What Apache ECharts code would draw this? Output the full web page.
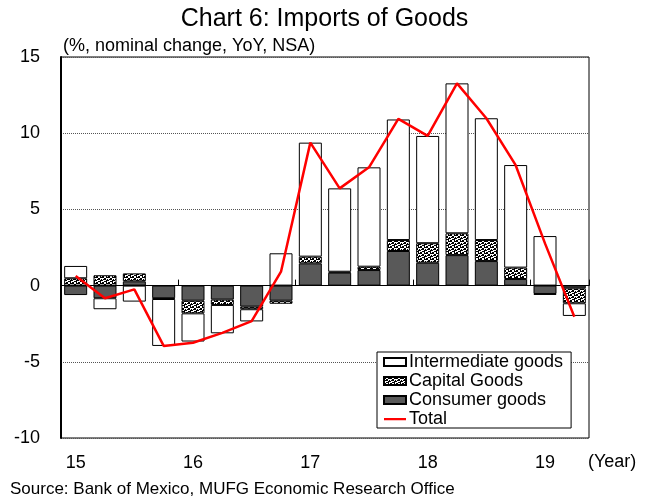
<!DOCTYPE html>
<html>
<head>
<meta charset="utf-8">
<script src="https://cdn.jsdelivr.net/npm/echarts@6/dist/echarts.min.js"></script>
<style>
html,body{margin:0;padding:0;background:#fff;}
#chart{width:649px;height:499px;}
</style>
</head>
<body>
<div id="chart"></div>
<script>
// ---- data (quarterly, 2015Q1 - 2019Q2) ----
const quarters = ['15Q1','15Q2','15Q3','15Q4','16Q1','16Q2','16Q3','16Q4','17Q1','17Q2','17Q3','17Q4','18Q1','18Q2','18Q3','18Q4','19Q1','19Q2'];
const tickLabels = ['15','','','','16','','','','17','','','','18','','','','19',''];
const consumerGoods = [-0.62, -0.83, 0.28, -0.83, -0.99, -0.92, -1.38, -0.99, 1.46, 0.85, 1.02, 2.27, 1.50, 2.00, 1.61, 0.43, -0.55, -0.18];
const capitalGoods = [0.48, 0.68, 0.52, -0.05, -0.83, -0.35, -0.17, -0.20, 0.44, 0.06, 0.22, 0.72, 1.28, 1.43, 1.38, 0.75, -0.05, -0.98];
const intermediateGoods = [0.81, -0.72, -1.05, -3.08, -1.85, -1.86, -0.80, 2.12, 7.48, 5.47, 6.52, 7.91, 7.04, 9.84, 7.99, 6.73, 3.25, -0.83];
const total = [0.63, -0.83, -0.25, -3.96, -3.75, -3.10, -2.33, 0.91, 9.38, 6.38, 7.76, 10.94, 9.82, 13.27, 10.98, 7.90, 2.77, -2.04];
const yTicks = {min: -10, max: 15, interval: 5};

// dotted pattern for capital goods
function makePattern() {
  const map = [
    '110010',
    '110011',
    '001100',
    '011101',
    '100011',
    '001110'
  ];
  const c = document.createElement('canvas');
  c.width = 6; c.height = 6;
  const ctx = c.getContext('2d');
  ctx.fillStyle = '#fff';
  ctx.fillRect(0, 0, 6, 6);
  ctx.fillStyle = '#000';
  for (let y = 0; y < 6; y++) for (let x = 0; x < 6; x++) if (map[y][x] === '1') ctx.fillRect(x, y, 1, 1);
  return c;
}
const pattern = {image: makePattern(), repeat: 'repeat'};
const lineIcon = 'path://M0,0 L0.01,0 L0.01,0.01 Z M0,3 L22,3 L22,5.2 L0,5.2 Z M22,8 L21.99,8 L21.99,7.99 Z';

const FONT = '"Liberation Sans", Arial, sans-serif';
const chart = echarts.init(document.getElementById('chart'), null, {renderer: 'canvas'});
chart.setOption({
  animation: false,
  backgroundColor: '#fff',
  textStyle: {fontFamily: FONT, color: '#000'},
  grid: {left: 61, right: 60, top: 57, bottom: 61, show: true, borderColor: '#000', borderWidth: 1, containLabel: false},
  graphic: [
    {type: 'text', left: 'center', top: 7, style: {text: 'Chart 6: Imports of Goods', font: '25px ' + FONT, fill: '#000'}},
    {type: 'text', left: 63, top: 37, style: {text: '(%, nominal change, YoY, NSA)', font: '18px ' + FONT, fill: '#000'}},
    {type: 'text', left: 588, top: 453, style: {text: '(Year)', font: '18px ' + FONT, fill: '#000'}},
    {type: 'text', left: 10, top: 481, style: {text: 'Source: Bank of Mexico, MUFG Economic Research Office', font: '17px ' + FONT, fill: '#000'}}
  ],
  legend: {
    orient: 'vertical', left: 377, top: 352,
    data: [
      {name: 'Intermediate goods', icon: 'rect'},
      {name: 'Capital Goods', icon: 'rect'},
      {name: 'Consumer goods', icon: 'rect'},
      {name: 'Total', icon: lineIcon, itemStyle: {color: '#ff0000', borderWidth: 0}}
    ],
    backgroundColor: '#fff', borderColor: '#000', borderWidth: 1,
    padding: [1, 8, 0, 6], itemGap: 1, itemWidth: 22, itemHeight: 8,
    textStyle: {fontSize: 18, lineHeight: 18, color: '#000', fontFamily: FONT, padding: [0, 0, 0, -2]},
    selectedMode: false
  },
  xAxis: [
    {
      type: 'category', data: quarters, position: 'top', gridIndex: 0,
      axisLine: {onZero: true, lineStyle: {color: '#000', width: 1}},
      axisTick: {show: true, length: 6, interval: function (i) { return i > 0 && i % 4 === 0; }, lineStyle: {color: '#000'}},
      axisLabel: {show: false}, splitLine: {show: false}
    },
    {
      type: 'category', data: quarters, position: 'bottom', gridIndex: 0,
      axisLine: {show: false, onZero: false}, axisTick: {show: false},
      axisLabel: {interval: 0, margin: 16, fontSize: 18, color: '#000', fontFamily: FONT,
        formatter: function (v, i) { return tickLabels[i]; }},
      splitLine: {show: false}
    }
  ],
  yAxis: {
    type: 'value', min: yTicks.min, max: yTicks.max, interval: yTicks.interval,
    axisLine: {show: true, lineStyle: {color: '#000', width: 2}},
    axisTick: {show: false},
    axisLabel: {fontSize: 18, color: '#000', margin: 21, fontFamily: FONT},
    splitLine: {show: true, lineStyle: {color: '#555', type: 'dotted', width: 1}}
  },
  series: [
    {name: 'Consumer goods', type: 'bar', stack: 'g', xAxisIndex: 0, data: consumerGoods, barWidth: 23,
      itemStyle: {color: '#595959', borderColor: '#000', borderWidth: 1}},
    {name: 'Capital Goods', type: 'bar', stack: 'g', xAxisIndex: 0, data: capitalGoods, barWidth: 23,
      itemStyle: {color: pattern, borderColor: '#000', borderWidth: 1}},
    {name: 'Intermediate goods', type: 'bar', stack: 'g', xAxisIndex: 0, data: intermediateGoods, barWidth: 23,
      itemStyle: {color: '#fff', borderColor: '#000', borderWidth: 1}},
    {name: 'Total', type: 'line', xAxisIndex: 0, data: total, symbol: 'none', z: 5,
      lineStyle: {color: '#ff0000', width: 2.5}, itemStyle: {color: '#ff0000'}}
  ]
});
</script>
</body>
</html>
